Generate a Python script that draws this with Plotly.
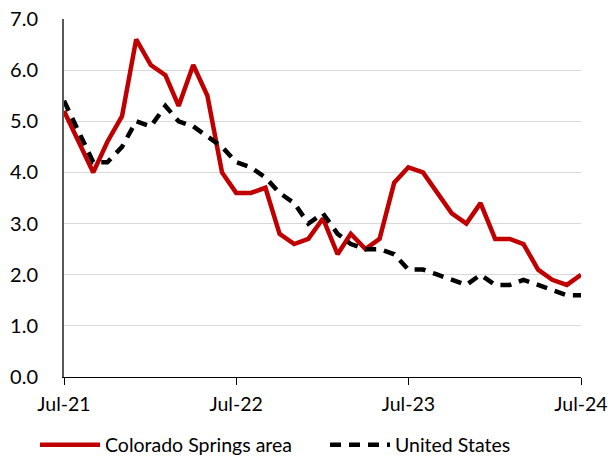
import pandas as pd
import plotly.graph_objects as go

months = pd.date_range("2021-07-01", "2024-07-01", freq="MS")

colorado_springs = [5.2, 4.6, 4.0, 4.6, 5.1, 6.6, 6.1, 5.9, 5.3, 6.1, 5.5, 4.0,
                    3.6, 3.6, 3.7, 2.8, 2.6, 2.7, 3.1, 2.4, 2.8, 2.5, 2.7, 3.8,
                    4.1, 4.0, 3.6, 3.2, 3.0, 3.4, 2.7, 2.7, 2.6, 2.1, 1.9, 1.8,
                    2.0]
united_states = [5.4, 4.8, 4.2, 4.2, 4.5, 5.0, 4.9, 5.3, 5.0, 4.9, 4.7, 4.5,
                 4.2, 4.1, 3.9, 3.6, 3.4, 3.0, 3.2, 2.8, 2.6, 2.5, 2.5, 2.4,
                 2.1, 2.1, 2.0, 1.9, 1.8, 2.0, 1.8, 1.8, 1.9, 1.8, 1.7, 1.6,
                 1.6]

x_tick_vals = ["2021-07-01", "2022-07-01", "2023-07-01", "2024-07-01"]
x_tick_text = ["Jul-21", "Jul-22", "Jul-23", "Jul-24"]
y_tick_vals = [0, 1, 2, 3, 4, 5, 6, 7]
y_tick_text = ["0.0", "1.0", "2.0", "3.0", "4.0", "5.0", "6.0", "7.0"]

FONT = "Lato, Carlito, Calibri, sans-serif"

fig = go.Figure()
fig.add_trace(go.Scatter(
    x=months, y=colorado_springs, mode="lines", name="Colorado Springs area",
    line=dict(color="#C00000", width=4.5), legend="legend"))
fig.add_trace(go.Scatter(
    x=months, y=united_states, mode="lines", name="United States",
    line=dict(color="#000000", width=4.5, dash="11px,8px"), legend="legend2"))

xr = ["2021-07-01", "2024-07-01"]
leg_common = dict(orientation="h", xref="container", yref="container",
                  xanchor="left", yanchor="middle", y=14 / 459,
                  font=dict(size=19.5, family=FONT), itemwidth=60,
                  bgcolor="rgba(0,0,0,0)")
fig.update_layout(
    width=612, height=459,
    margin=dict(l=64, r=31, t=19, b=82, autoexpand=False),
    paper_bgcolor="white", plot_bgcolor="white",
    font=dict(family=FONT, size=20, color="#000000"),
    showlegend=True,
    legend=dict(x=35 / 612, **leg_common),
    legend2=dict(x=325 / 612, **leg_common),
    xaxis=dict(type="date", range=xr, tickvals=x_tick_vals, ticktext=x_tick_text,
               automargin=False,
               showgrid=False, zeroline=False, showline=True, linecolor="#000000",
               linewidth=1, ticks="outside", ticklen=7, tickcolor="#000000",
               tickwidth=1, ticklabelstandoff=3, tickfont=dict(size=19.5, family=FONT)),
    xaxis2=dict(type="date", range=xr, overlaying="x", anchor="y", side="bottom",
                tickvals=x_tick_vals, showticklabels=False, showgrid=False,
                automargin=False,
                zeroline=False, showline=False, ticks="inside", ticklen=8,
                tickcolor="#000000", tickwidth=1),
    yaxis=dict(range=[0, 7], tickvals=y_tick_vals, ticktext=y_tick_text,
               automargin=False,
               showgrid=True, gridcolor="#D9D9D9", gridwidth=1.3, zeroline=False,
               showline=True, linecolor="#595959", linewidth=2,
               ticks="", ticklabelstandoff=20, tickfont=dict(size=20, family=FONT)),
    yaxis2=dict(range=[0, 7], overlaying="y", anchor="x", side="right",
                automargin=False,
                showticklabels=False, showgrid=False, zeroline=False,
                showline=True, linecolor="#D9D9D9", linewidth=2),
)

fig.write_html("out.html", config={"displayModeBar": False},
               post_script="document.body.style.margin='0';")
